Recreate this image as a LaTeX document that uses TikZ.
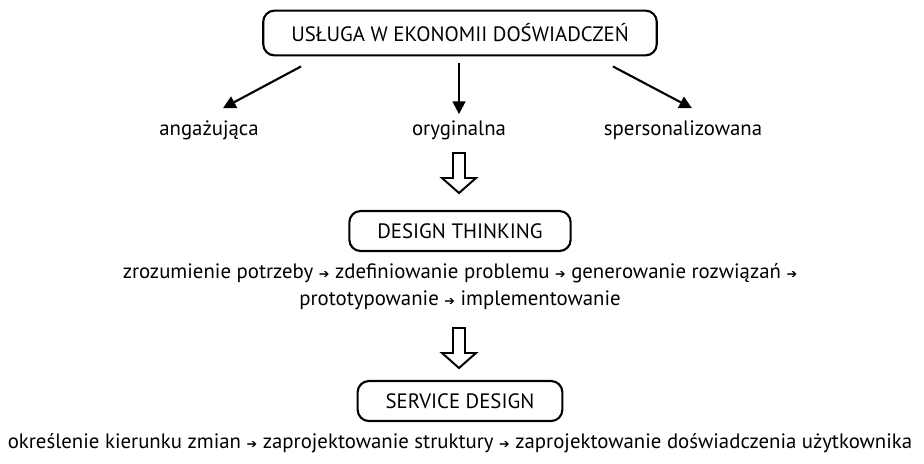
\documentclass[tikz,border=0pt]{standalone}
\usepackage{fontspec}
\setmainfont{PT Sans}
\newfontfamily\arrowfont{DejaVu Sans}
\usetikzlibrary{arrows.meta, positioning, calc}
\newcommand{\nx}{{\arrowfont\fontsize{9}{9}\selectfont ➔}}
\tikzset{
  base/.style   = {font=\fontsize{14.8}{19}\selectfont, inner sep=0pt},
  topic/.style  = {base, draw, line width=1.5pt, rounded corners=8pt,
                   inner xsep=0.7cm, minimum height=1cm},
  feature/.style= {base},
  steps/.style  = {base, align=center},
  arr/.style    = {-{Triangle[length=9pt, width=9pt]}, line width=1.5pt},
  hollow/.pic   = {\draw[line width=1.4pt, line join=miter]
                     (-6,0) -- (-6,25) -- (-17,25) -- (0,40) -- (17,25)
                     -- (6,25) -- (6,0) -- cycle;},
}
\begin{document}
\begin{tikzpicture}[x=0.025cm, y=-0.025cm]
  \useasboundingbox (0,0) rectangle (924,463);
  \node[topic, minimum height=1.12cm] (usl) at (460,33) {USŁUGA W EKONOMII DOŚWIADCZEŃ};
  \node[feature] (ang) at (209,130) {angażująca};
  \node[feature] (ory) at (459,130) {oryginalna};
  \node[feature] (spe) at (683,130) {spersonalizowana};

  \draw[arr] ($(usl.south)+(-159,10)$) -- ($(ang.north)+(14,-12)$);
  \draw[arr] ($(usl.south)+(-1,7)$)    -- ($(ory.north)+(0,-6)$);
  \draw[arr] ($(usl.south)+(153,10)$)  -- ($(spe.north)+(9,-12)$);

  \coordinate (h1) at (459,153);
  \pic at (h1) {hollow};

  \node[topic] (dt) at (460,231) {DESIGN THINKING};
  \node[steps, below=0.28cm of dt] (dtsteps)
       {zrozumienie potrzeby \nx{} zdefiniowanie problemu \nx{} generowanie rozwiązań \nx\\
        prototypowanie \nx{} implementowanie};

  \coordinate (h2) at (459,328);
  \pic at (h2) {hollow};

  \node[topic] (sd) at (460,401) {SERVICE DESIGN};
  \node[steps, below=0.28cm of sd] (sdsteps)
       {określenie kierunku zmian \nx{} zaprojektowanie struktury \nx{} zaprojektowanie doświadczenia użytkownika};
\end{tikzpicture}
\end{document}
